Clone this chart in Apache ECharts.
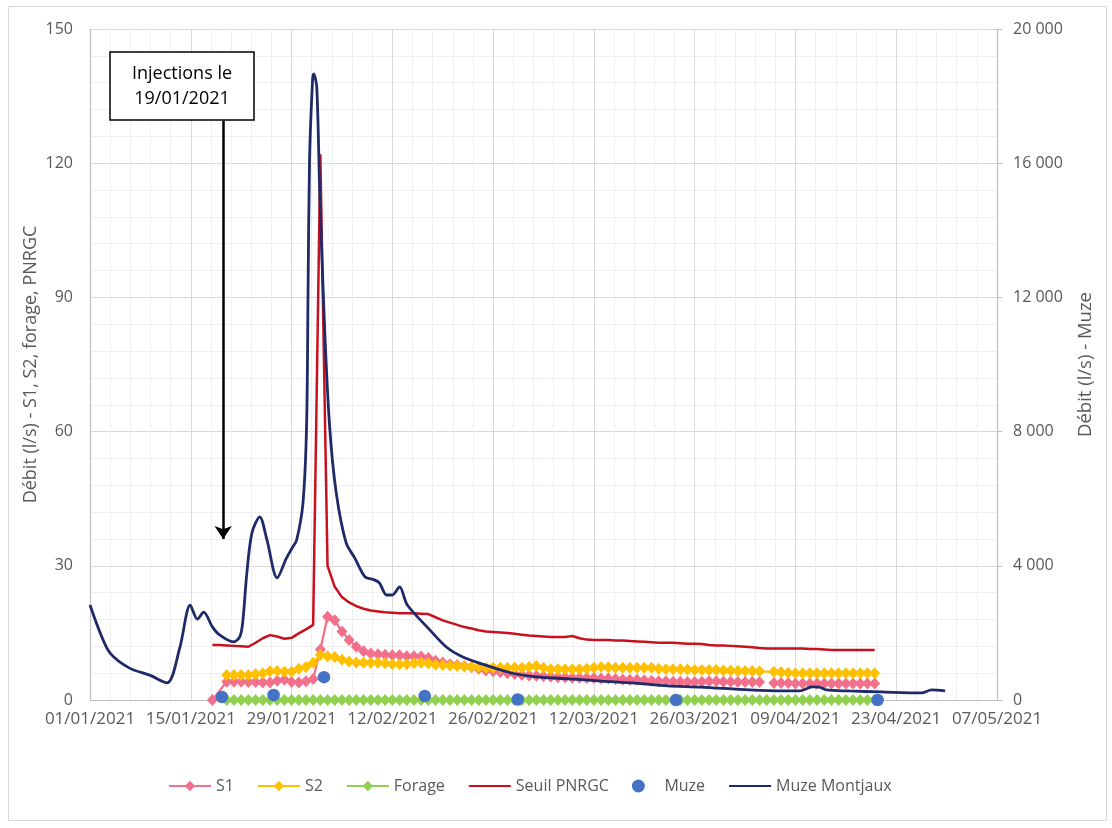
<!DOCTYPE html>
<html>
<head>
<meta charset="utf-8">
<script src="https://cdn.jsdelivr.net/npm/echarts@6/dist/echarts.min.js"></script>
<style>
html,body{margin:0;padding:0;background:#fff;}
#chart{width:1112px;height:828px;}
</style>
</head>
<body>
<div id="chart"></div>
<script>
// ---------- DATA ----------
const xTickStart = '2021-01-01';
const xTickEnd = '2021-05-07';
const xTickStepDays = 14;

const leftAxisMax = 150, leftAxisStep = 30;
const rightAxisMax = 20000, rightAxisStep = 4000;

const __ = undefined; // day without any point

// S1 (l/s), daily from 18/01/2021
const s1Start = '2021-01-18';
const s1Values = [0, __,
  4.1, 4.1, 4.1, 4.0, 4.0, 3.9, 3.9, 4.3, 4.5, 4.0,
  3.9, 4.2, 4.7, 11.3, 18.6, 17.8, 15.3, 13.4, 11.9, 10.9,
  10.4, 10.2, 10.1, 10.0, 10.0, 9.8, 9.8, 9.7, 9.4, 8.8,
  8.4, 8.0, 7.8, 7.6, 7.3, 7.0, 6.6, 6.4, 6.2, 6.0,
  5.8, 5.6, 5.5, 5.4, 5.3, 5.2, 5.1, 5.1, 5.0, 5.0,
  4.9, 4.9, 4.8, 4.8, 4.7, 4.6, 4.5, 4.5, 4.4, 4.3,
  4.2, 4.2, 4.1, 4.1, 4.0, 4.0, 4.1, 4.2, 4.2, 4.1,
  4.1, 4.0, 4.0, 4.0, 4.0, null, 3.8, 3.8, 3.8, 3.7,
  3.7, 3.7, 3.7, 3.7, 3.7, 3.7, 3.7, 3.7, 3.7, 3.7,
  3.7];

// S2 (l/s), daily from 20/01/2021
const s2Start = '2021-01-20';
const s2Values = [
  5.6, 5.6, 5.6, 5.6, 5.8, 6.0, 6.4, 6.5, 6.3, 6.3,
  7.0, 7.4, 8.3, 10.1, 9.8, 9.6, 9.0, 8.6, 8.4, 8.3,
  8.3, 8.3, 8.2, 8.0, 8.0, 8.0, 8.2, 8.3, 8.2, 7.9,
  7.8, 7.7, 7.6, 7.5, 7.4, 7.3, 7.2, 7.2, 7.2, 7.2,
  7.2, 7.2, 7.4, 7.6, 7.2, 6.9, 6.9, 6.9, 6.9, 6.9,
  7.0, 7.2, 7.4, 7.3, 7.2, 7.2, 7.2, 7.2, 7.2, 7.2,
  7.0, 6.9, 6.9, 6.9, 6.8, 6.7, 6.7, 6.7, 6.7, 6.6,
  6.6, 6.5, 6.5, 6.5, 6.4, null, 6.3, 6.2, 6.1, 6.0,
  6.0, 6.0, 6.0, 6.0, 6.0, 6.0, 6.0, 6.0, 6.0, 6.0, 6.0];

// Forage (l/s), daily from 20/01/2021
const forageStart = '2021-01-20';
const forageValues = [
  0,0,0,0,0,0,0,0,0,0, 0,0,0,0,0,0,0,0,0,0,
  0,0,0,0,0,0,0,0,0,0, 0,0,0,0,0,0,0,0,0,0,
  0,0,0,0,0,0,0,0,0,0, 0,0,0,0,0,0,0,0,0,0,
  0,0,0,0,0,0,0,0,0,0, 0,0,0,0,0,0,0,0,0,0,
  0,0,0,0,0,0,0,0,0,0, 0];

// Seuil PNRGC (l/s), daily from 18/01/2021
const seuilStart = '2021-01-18';
const seuilValues = [
  12.3, 12.3, 12.2, 12.1, 12.0, 11.9, 12.8, 13.8, 14.5, 14.2,
  13.7, 13.9, 14.9, 15.8, 16.8, 122, 30, 25.3, 23.0, 21.8,
  21.0, 20.4, 20.0, 19.8, 19.6, 19.5, 19.4, 19.4, 19.4, 19.3,
  19.2, 18.5, 17.8, 17.3, 16.8, 16.3, 16.0, 15.6, 15.3, 15.2,
  15.1, 15.0, 14.8, 14.6, 14.4, 14.3, 14.2, 14.1, 14.1, 14.1,
  14.3, 13.8, 13.5, 13.4, 13.4, 13.4, 13.3, 13.3, 13.2, 13.1,
  13.0, 12.9, 12.8, 12.8, 12.8, 12.7, 12.6, 12.6, 12.5, 12.3,
  12.2, 12.2, 12.1, 12.0, 11.9, 11.8, 11.6, 11.5, 11.5, 11.5,
  11.5, 11.5, 11.5, 11.4, 11.4, 11.3, 11.2, 11.2, 11.2, 11.2,
  11.2, 11.2, 11.2];

// Muze (l/s), spot gaugings
const muzeDates = ['2021-01-19 08:00', '2021-01-26 12:00', '2021-02-02 12:00', '2021-02-16 12:00',
                   '2021-03-01 10:00', '2021-03-23 10:00', '2021-04-20 10:00'];
const muzeValues = [90, 150, 680, 120, 15, 0, 0];

// Muze Montjaux (l/s)
const montjauxDates = [
  '2021-01-01 00:00', '2021-01-02 10:00', '2021-01-03 19:00', '2021-01-06 12:00', '2021-01-09 07:00',
  '2021-01-11 17:00', '2021-01-13 12:00', '2021-01-14 22:00', '2021-01-15 22:00', '2021-01-16 19:00',
  '2021-01-18 00:00', '2021-01-19 00:00', '2021-01-20 22:00', '2021-01-21 19:00', '2021-01-22 05:00',
  '2021-01-22 19:00', '2021-01-23 12:00', '2021-01-24 14:00', '2021-01-25 14:00', '2021-01-27 00:00',
  '2021-01-28 07:00', '2021-01-29 02:00', '2021-01-29 17:00', '2021-01-30 14:00', '2021-01-31 02:00',
  '2021-01-31 07:00', '2021-01-31 12:00', '2021-01-31 22:00', '2021-02-01 02:00', '2021-02-01 12:00',
  '2021-02-01 22:00', '2021-02-02 14:00', '2021-02-03 07:00', '2021-02-04 05:00', '2021-02-05 14:00',
  '2021-02-06 19:00', '2021-02-08 05:00', '2021-02-09 12:00', '2021-02-10 05:00', '2021-02-11 05:00',
  '2021-02-12 00:00', '2021-02-13 00:00', '2021-02-14 02:00', '2021-02-17 05:00', '2021-02-19 12:00',
  '2021-02-21 19:00', '2021-02-24 02:00', '2021-02-28 12:00', '2021-03-04 00:00', '2021-03-08 14:00',
  '2021-03-13 02:00', '2021-03-17 17:00', '2021-03-22 05:00', '2021-03-26 19:00', '2021-04-02 14:00',
  '2021-04-07 05:00', '2021-04-09 14:00', '2021-04-11 07:00', '2021-04-12 07:00', '2021-04-13 07:00',
  '2021-04-16 10:00', '2021-04-21 00:00', '2021-04-26 12:00', '2021-04-27 22:00', '2021-04-29 19:00'];
const montjauxValues = [
  2830, 2000, 1400, 950, 740,
  510, 1580, 2830, 2410, 2620,
  2180, 1940, 1730, 1880, 2300,
  3790, 4980, 5460, 4770, 3640,
  4230, 4530, 4770, 5870, 8140,
  12130, 16100, 18480, 18660, 18270,
  15110, 11120, 8140, 6170, 4680,
  4230, 3670, 3580, 3490, 3130,
  3130, 3370, 2830, 2090, 1580,
  1280, 1100, 805, 690, 630,
  565, 505, 420, 385, 300,
  270, 270, 390, 385, 300,
  270, 240, 210, 300, 270];

// Annotation
const injectionDate = '2021-01-19 12:00';
const injectionText = 'Injections le\n19/01/2021';
const arrowFrom = 129.5, arrowTo = 36;

// ---------- HELPERS ----------
const DAY = 86400000;
function toT(s) {
  const parts = s.split(' ');
  const [Y, M, D] = parts[0].split('-').map(Number);
  let hh = 0, mm = 0;
  if (parts[1]) [hh, mm] = parts[1].split(':').map(Number);
  return Date.UTC(Y, M - 1, D, hh, mm);
}
function daily(start, values) {
  const t0 = toT(start);
  const out = [];
  values.forEach((v, i) => { if (v !== undefined) out.push([t0 + i * DAY, v]); });
  return out;
}
function pairs(dates, values) { return dates.map((d, i) => [toT(d), values[i]]); }
const pad = n => (n < 10 ? '0' : '') + n;
function fmtDate(v) {
  const d = new Date(v);
  return pad(d.getUTCDate()) + '/' + pad(d.getUTCMonth() + 1) + '/' + d.getUTCFullYear();
}
function fmtThousands(v) {
  if (v < 1000) return String(v);
  const k = Math.floor(v / 1000), r = v % 1000;
  return k + ' ' + String(r).padStart(3, '0');
}

const FONT = '"Open Sans", "Noto Sans", sans-serif';
const GREY = '#595959';

const chart = echarts.init(document.getElementById('chart'), null, { renderer: 'canvas' });

const diamondLine = (name, color, data, connect) => ({
  name, type: 'line', yAxisIndex: 0, data,
  symbol: 'diamond', symbolSize: [11, 12], showSymbol: true,
  connectNulls: connect,
  itemStyle: { color }, lineStyle: { color, width: 2.25 },
  emphasis: { disabled: true }, animation: false
});

const option = {
  animation: false,
  textStyle: { fontFamily: FONT },
  grid: { left: 90, right: 115, top: 29, bottom: 128, containLabel: false },
  xAxis: {
    type: 'value',
    min: toT(xTickStart), max: toT(xTickEnd), interval: xTickStepDays * DAY,
    axisLine: { show: true, onZero: false, lineStyle: { color: '#bfbfbf', width: 1.2 } },
    axisTick: { show: false },
    minorTick: { show: false, splitNumber: 5 },
    minorSplitLine: { show: true, lineStyle: { color: '#efefef', width: 1 } },
    splitLine: { show: true, lineStyle: { color: '#d9d9d9', width: 1 } },
    axisLabel: { formatter: fmtDate, color: GREY, fontSize: 17, margin: 11, fontFamily: FONT, showMinLabel: true, showMaxLabel: true }
  },
  yAxis: [
    {
      type: 'value', min: 0, max: leftAxisMax, interval: leftAxisStep, position: 'left',
      name: 'Débit (l/s) - S1, S2, forage, PNRGC', nameLocation: 'middle', nameGap: 50,
      nameMoveOverlap: false,
      nameTextStyle: { color: GREY, fontSize: 18, fontFamily: FONT },
      axisLine: { show: true, lineStyle: { color: '#bfbfbf', width: 1.2 } },
      axisTick: { show: false },
      minorTick: { show: false, splitNumber: 5 },
      minorSplitLine: { show: true, lineStyle: { color: '#efefef', width: 1 } },
      splitLine: { show: true, lineStyle: { color: '#d9d9d9', width: 1 } },
      axisLabel: { color: GREY, fontSize: 16, margin: 17, fontFamily: FONT }
    },
    {
      type: 'value', min: 0, max: rightAxisMax, interval: rightAxisStep, position: 'right',
      name: 'Débit (l/s) - Muze', nameLocation: 'middle', nameGap: 79,
      nameTextStyle: { color: GREY, fontSize: 18.5, fontFamily: FONT },
      axisLine: { show: true, lineStyle: { color: '#bfbfbf', width: 1.2 } },
      axisTick: { show: true, inside: false, length: 5, lineStyle: { color: '#bfbfbf' } },
      splitLine: { show: false },
      axisLabel: { color: GREY, fontSize: 16, margin: 16, fontFamily: FONT, formatter: fmtThousands }
    }
  ],
  legend: {
    data: [
      { name: 'S1' }, { name: 'S2' }, { name: 'Forage' },
      { name: 'Seuil PNRGC', itemStyle: { opacity: 0 } },
      { name: 'Muze' },
      { name: 'Muze Montjaux', itemStyle: { opacity: 0 } }
    ],
    left: 163, top: 773, itemWidth: 42, itemHeight: 13, itemGap: 23,
    textStyle: { color: GREY, fontSize: 16, fontFamily: FONT },
    selectedMode: false
  },
  series: [
    diamondLine('S1', '#f2708b', daily(s1Start, s1Values), false),
    diamondLine('S2', '#ffc000', daily(s2Start, s2Values), true),
    diamondLine('Forage', '#92d050', daily(forageStart, forageValues), false),
    {
      name: 'Seuil PNRGC', type: 'line', yAxisIndex: 0, data: daily(seuilStart, seuilValues),
      showSymbol: false, symbol: 'none', itemStyle: { color: '#c8101e' },
      lineStyle: { color: '#c8101e', width: 2.5 }, emphasis: { disabled: true },
      markLine: {
        silent: true, animation: false,
        symbol: ['none', 'arrow'], symbolSize: 13,
        label: { show: false },
        lineStyle: { color: '#000', width: 2.5, type: 'solid' },
        emphasis: { disabled: true },
        data: [[{ coord: [toT(injectionDate), arrowFrom] }, { coord: [toT(injectionDate), arrowTo] }]]
      }
    },
    {
      name: 'Muze', type: 'scatter', yAxisIndex: 1, data: pairs(muzeDates, muzeValues),
      symbol: 'circle', symbolSize: 12.5, itemStyle: { color: '#4472c4', opacity: 1 }, emphasis: { disabled: true }, z: 3
    },
    {
      name: 'Muze Montjaux', type: 'line', yAxisIndex: 1, data: pairs(montjauxDates, montjauxValues),
      showSymbol: false, symbol: 'none', smooth: 0.3,
      itemStyle: { color: '#1f2a68' }, lineStyle: { color: '#1f2a68', width: 2.8 },
      emphasis: { disabled: true }, z: 4
    }
  ],
  graphic: [
    { type: 'rect', silent: true, z: -10, shape: { x: 8.5, y: 6.5, width: 1098, height: 814 },
      style: { fill: 'none', stroke: '#d9d9d9', lineWidth: 1 } },
    { type: 'rect', silent: true, z: 100, shape: { x: 110, y: 52, width: 144, height: 68 },
      style: { fill: '#fff', stroke: '#000', lineWidth: 1.5 } },
    { type: 'text', silent: true, z: 101, x: 182, y: 86,
      style: { text: injectionText, font: '18px ' + FONT, fill: '#000', align: 'center', verticalAlign: 'middle', lineHeight: 25 } }
  ]
};
chart.setOption(option);
</script>
</body>
</html>
